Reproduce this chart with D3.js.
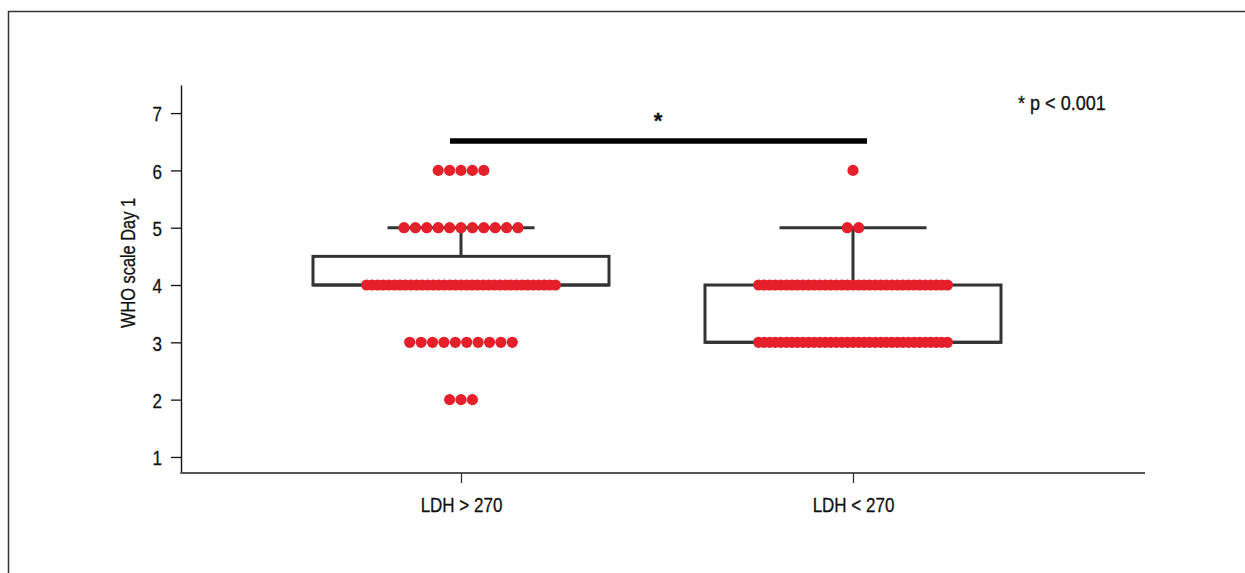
<!DOCTYPE html>
<html>
<head>
<meta charset="utf-8">
<script src="https://cdn.jsdelivr.net/npm/d3@7"></script>
<style>
  html, body { margin: 0; padding: 0; background: #fff; }
  svg { display: block; }
  text { font-family: 'Liberation Sans', Arial, sans-serif; fill: #111; stroke: #111; stroke-width: 0.3px; }
</style>
</head>
<body>
<svg id="chart" width="1245" height="573"></svg>
<script>
// ---- data ----
const categories = ["LDH > 270", "LDH < 270"];
const levels = [2, 3, 4, 5, 6];
const countsHigh = [3, 10, 35, 11, 5];   // LDH>270 dots per WHO level
const countsLow  = [0, 35, 35, 2, 1];    // LDH<270 dots per WHO level
const boxQ1 = [4, 3];
const boxMedian = [4, 3];
const boxQ3 = [4.5, 4];
const whiskerLow = [4, 3];
const whiskerHigh = [5, 5];
const yTicks = [1, 2, 3, 4, 5, 6, 7];
const yLabel = "WHO scale Day 1";
const sigLabel = "*";
const pNote = "* p < 0.001";

// ---- layout ----
const svg = d3.select("#chart");
const red = "#e5202a";
const boxStroke = "#333";
const sx = 0.81; // horizontal condensing of the text

// frame
svg.append("rect").attr("x", 8.5).attr("y", 11.5).attr("width", 1260).attr("height", 600)
  .attr("fill", "none").attr("stroke", "#333").attr("stroke-width", 1.5);

const y = d3.scaleLinear().domain([0.72, 7.49]).range([473, 85]);
const x = d3.scalePoint().domain(categories).range([461, 853]);
const axisLeftX = 181, axisRightX = 1145;

// y axis
const gy = svg.append("g").attr("transform", `translate(${axisLeftX},0)`)
  .call(d3.axisLeft(y).tickValues(yTicks).tickSize(10).tickSizeOuter(0).tickFormat(d3.format("d")));
gy.select(".domain").attr("stroke", "#111").attr("stroke-width", 1.4);
gy.selectAll(".tick line").attr("stroke", "#111").attr("stroke-width", 1.3);
gy.selectAll(".tick text").style("font-size", "21px").attr("fill", "#111")
  .attr("x", -19 / sx).attr("dy", "0.37em").attr("transform", `scale(${sx},1)`);

// x axis
svg.append("line").attr("x1", axisLeftX - 0.7).attr("x2", axisRightX).attr("y1", y(0.72)).attr("y2", y(0.72))
  .attr("stroke", "#555").attr("stroke-width", 2);
const gx = svg.append("g").attr("transform", `translate(0,${y(0.72)})`)
  .call(d3.axisBottom(x).tickSize(10).tickSizeOuter(0));
gx.select(".domain").remove();
gx.selectAll(".tick line").attr("stroke", "#333").attr("stroke-width", 1.3);
gx.selectAll(".tick text").style("font-size", "21px").attr("fill", "#111")
  .attr("y", 39).attr("dy", null).attr("transform", `scale(${sx},1)`);

// y label
svg.append("text").attr("transform", `translate(135,263) rotate(-90) scale(0.78,1)`)
  .attr("text-anchor", "middle").style("font-size", "21px").text(yLabel);

// boxes
const boxW = 296, capW = 147;
categories.forEach((c, i) => {
  const cx = x(c);
  const g = svg.append("g").attr("fill", "none").attr("stroke", boxStroke).attr("stroke-width", 3);
  g.append("rect").attr("x", cx - boxW / 2).attr("y", y(boxQ3[i])).attr("width", boxW)
    .attr("height", y(boxQ1[i]) - y(boxQ3[i]));
  g.append("line").attr("x1", cx - boxW / 2).attr("x2", cx + boxW / 2)
    .attr("y1", y(boxMedian[i])).attr("y2", y(boxMedian[i]));
  g.append("line").attr("x1", cx).attr("x2", cx).attr("y1", y(boxQ3[i])).attr("y2", y(whiskerHigh[i]));
  g.append("line").attr("x1", cx - capW / 2).attr("x2", cx + capW / 2)
    .attr("y1", y(whiskerHigh[i])).attr("y2", y(whiskerHigh[i]));
  if (whiskerLow[i] < boxQ1[i]) {
    g.append("line").attr("x1", cx).attr("x2", cx).attr("y1", y(boxQ1[i])).attr("y2", y(whiskerLow[i]));
    g.append("line").attr("x1", cx - capW / 2).attr("x2", cx + capW / 2)
      .attr("y1", y(whiskerLow[i])).attr("y2", y(whiskerLow[i]));
  }
});

// dots
const r = 5.6, gap = 11.4, maxRow = 200;
const allCounts = [countsHigh, countsLow];
const pts = [];
categories.forEach((c, i) => {
  levels.forEach((lv, j) => {
    const n = allCounts[i][j];
    if (!n) return;
    let step = gap;
    if ((n - 1) * step + 2 * r > maxRow) step = (maxRow - 2 * r) / (n - 1);
    for (let k = 0; k < n; k++) {
      pts.push({ cx: x(c) + (k - (n - 1) / 2) * step, v: lv });
    }
  });
});
svg.append("g").selectAll("circle").data(pts).join("circle")
  .attr("cx", d => d.cx).attr("cy", d => y(d.v)).attr("r", r).attr("fill", red);

// significance bar
svg.append("line").attr("x1", 450).attr("x2", 867).attr("y1", 141).attr("y2", 141)
  .attr("stroke", "#000").attr("stroke-width", 5.5);
svg.append("text").attr("x", 658).attr("y", 128).attr("text-anchor", "middle")
  .style("font-size", "22px").style("font-weight", "bold").text(sigLabel);

// p note
svg.append("text").attr("transform", `translate(1018,110) scale(0.86,1)`)
  .style("font-size", "21px").text(pNote);
</script>
</body>
</html>
